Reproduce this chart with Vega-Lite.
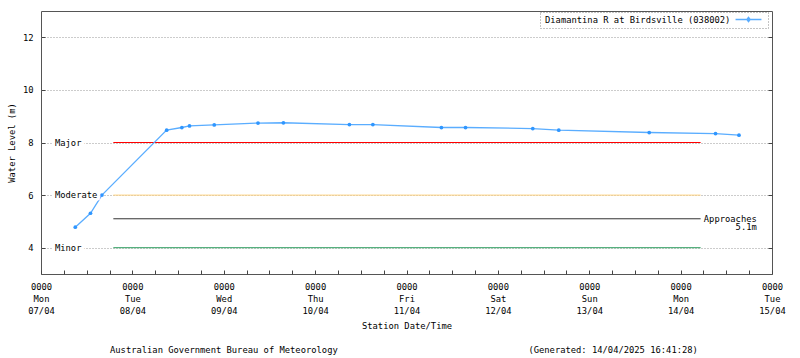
{
  "$schema": "https://vega.github.io/schema/vega-lite/v6.json",
  "width": 731,
  "height": 263,
  "autosize": {"type": "none"},
  "padding": {"left": 41, "top": 11, "right": 28, "bottom": 84},
  "background": "white",
  "config": {
    "font": "DejaVu Sans Mono",
    "view": {"stroke": "#555", "strokeWidth": 1},
    "axis": {
      "labelFont": "DejaVu Sans Mono", "labelFontSize": 8.8, "labelColor": "#000",
      "titleFont": "DejaVu Sans Mono", "titleFontSize": 8.8, "titleFontWeight": "normal", "titleColor": "#000",
      "gridColor": "#999", "gridDash": [1, 2], "gridWidth": 1,
      "tickColor": "#444", "domain": false
    },
    "text": {"font": "DejaVu Sans Mono", "fontSize": 8.8}
  },
  "title": {
    "text": "Australian Government Bureau of Meteorology\u00a0\u00a0\u00a0\u00a0\u00a0\u00a0\u00a0\u00a0\u00a0\u00a0\u00a0\u00a0\u00a0\u00a0\u00a0\u00a0\u00a0\u00a0\u00a0\u00a0\u00a0\u00a0\u00a0\u00a0\u00a0\u00a0\u00a0\u00a0\u00a0\u00a0\u00a0\u00a0\u00a0\u00a0\u00a0\u00a0(Generated: 14/04/2025 16:41:28)",
    "orient": "bottom", "anchor": "start", "frame": "group", "dx": 69, "offset": 15,
    "font": "DejaVu Sans Mono", "fontSize": 8.8, "fontWeight": "normal", "color": "#000"
  },
  "datasets": {
    "levels": [
      {"series": "Diamantina R at Birdsville (038002)", "time": "2025-04-07T09:00", "level": 4.78},
      {"series": "Diamantina R at Birdsville (038002)", "time": "2025-04-07T13:00", "level": 5.31},
      {"series": "Diamantina R at Birdsville (038002)", "time": "2025-04-07T16:00", "level": 6.0},
      {"series": "Diamantina R at Birdsville (038002)", "time": "2025-04-08T09:00", "level": 8.47},
      {"series": "Diamantina R at Birdsville (038002)", "time": "2025-04-08T13:00", "level": 8.57},
      {"series": "Diamantina R at Birdsville (038002)", "time": "2025-04-08T15:00", "level": 8.63},
      {"series": "Diamantina R at Birdsville (038002)", "time": "2025-04-08T21:30", "level": 8.67},
      {"series": "Diamantina R at Birdsville (038002)", "time": "2025-04-09T09:00", "level": 8.74},
      {"series": "Diamantina R at Birdsville (038002)", "time": "2025-04-09T15:40", "level": 8.75},
      {"series": "Diamantina R at Birdsville (038002)", "time": "2025-04-10T09:00", "level": 8.68},
      {"series": "Diamantina R at Birdsville (038002)", "time": "2025-04-10T15:10", "level": 8.68},
      {"series": "Diamantina R at Birdsville (038002)", "time": "2025-04-11T09:10", "level": 8.57},
      {"series": "Diamantina R at Birdsville (038002)", "time": "2025-04-11T15:30", "level": 8.57},
      {"series": "Diamantina R at Birdsville (038002)", "time": "2025-04-12T09:10", "level": 8.53},
      {"series": "Diamantina R at Birdsville (038002)", "time": "2025-04-12T16:00", "level": 8.47},
      {"series": "Diamantina R at Birdsville (038002)", "time": "2025-04-13T15:45", "level": 8.38},
      {"series": "Diamantina R at Birdsville (038002)", "time": "2025-04-14T09:10", "level": 8.34},
      {"series": "Diamantina R at Birdsville (038002)", "time": "2025-04-14T15:20", "level": 8.28}
    ],
    "thresholds": [
      {"threshold": "Major", "level": 8, "label": "Major"},
      {"threshold": "Moderate", "level": 6, "label": "Moderate"},
      {"threshold": "Approaches", "level": 5.1, "label": "Approaches\n5.1m"},
      {"threshold": "Minor", "level": 4, "label": "Minor"}
    ]
  },
  "layer": [
    {
      "data": {"name": "thresholds"},
      "mark": {"type": "rule", "strokeWidth": 1},
      "encoding": {
        "x": {
          "datum": {"year": 2025, "month": 4, "date": 7, "hours": 19},
          "type": "temporal",
          "scale": {"domain": [{"year": 2025, "month": 4, "date": 7}, {"year": 2025, "month": 4, "date": 15}], "nice": false},
          "axis": {
            "title": "Station Date/Time",
            "tickCount": 32,
            "labelExpr": "hours(datum.value) === 0 ? ['0000', timeFormat(datum.value, '%a'), timeFormat(datum.value, '%d/%m')] : ''",
            "labelLineHeight": 12, "labelBaseline": "top", "labelAlign": "center",
            "labelPadding": 12, "labelOverlap": false, "labelFlush": false, "labelBound": false,
            "tickSize": -4,
            "gridOpacity": {"condition": {"test": "hours(datum.value) === 0", "value": 1}, "value": 0},
            "titlePadding": 7
          }
        },
        "x2": {"datum": {"year": 2025, "month": 4, "date": 14, "hours": 5, "minutes": 15}},
        "y": {
          "field": "level", "type": "quantitative",
          "scale": {"domain": [3, 13], "nice": false, "zero": false},
          "axis": {"orient": "right", "values": [4, 6, 8, 10, 12], "labels": false, "grid": false, "tickSize": -4, "title": null}
        },
        "color": {
          "field": "threshold", "type": "nominal",
          "scale": {"domain": ["Major", "Moderate", "Approaches", "Minor"], "range": ["#ff0000", "#ffd27f", "#333333", "#2f9e60"]},
          "legend": null
        }
      }
    },
    {
      "data": {"name": "levels"},
      "mark": {"type": "line", "strokeWidth": 1.3},
      "encoding": {
        "x": {"field": "time", "type": "temporal"},
        "y": {
          "field": "level", "type": "quantitative",
          "axis": {"orient": "left", "values": [4, 6, 8, 10, 12], "grid": true, "tickSize": -4, "labelPadding": 12, "title": "Water Level (m)", "titlePadding": 6}
        },
        "color": {
          "field": "series", "type": "nominal",
          "scale": {"range": ["#5aadff"]},
          "legend": {
            "orient": "none", "legendX": 499, "legendY": 1, "title": null,
            "labelFont": "DejaVu Sans Mono", "labelFontSize": 8.8, "labelColor": "#000", "labelLimit": 400,
            "symbolType": "M-3.7,0H3.7M0,-0.6L0.45,0L0,0.6L-0.45,0Z",
            "symbolSize": 49, "symbolStrokeWidth": 1.5, "symbolStrokeColor": "#5aadff", "symbolFillColor": "#2f96ff",
            "labelOffset": -208, "symbolOffset": 201,
            "strokeColor": "#888", "fillColor": "white", "padding": 3,
            "encode": {"legend": {"update": {"strokeDash": {"value": [1, 2]}}}}
          }
        }
      }
    },
    {
      "data": {"name": "levels"},
      "mark": {"type": "point", "filled": true, "shape": "circle", "size": 14, "color": "#2f96ff", "opacity": 1},
      "encoding": {
        "x": {"field": "time", "type": "temporal"},
        "y": {"field": "level", "type": "quantitative", "axis": null}
      }
    },
    {
      "data": {"name": "thresholds"},
      "transform": [{"filter": "datum.threshold !== 'Approaches'"}],
      "mark": {"type": "text", "align": "left", "baseline": "middle", "fill": "white", "stroke": "white", "strokeWidth": 6},
      "encoding": {
        "x": {"datum": {"year": 2025, "month": 4, "date": 7, "hours": 3, "minutes": 40}, "type": "temporal"},
        "y": {"field": "level", "type": "quantitative", "axis": null},
        "text": {"field": "label"}
      }
    },
    {
      "data": {"name": "thresholds"},
      "transform": [{"filter": "datum.threshold !== 'Approaches'"}],
      "mark": {"type": "text", "align": "left", "baseline": "middle", "color": "#000"},
      "encoding": {
        "x": {"datum": {"year": 2025, "month": 4, "date": 7, "hours": 3, "minutes": 40}, "type": "temporal"},
        "y": {"field": "level", "type": "quantitative", "axis": null},
        "text": {"field": "label"}
      }
    },
    {
      "data": {"name": "thresholds"},
      "transform": [{"filter": "datum.threshold === 'Approaches'"}],
      "mark": {"type": "text", "align": "right", "baseline": "middle", "lineBreak": "\n", "lineHeight": 8, "color": "#000"},
      "encoding": {
        "x": {"datum": {"year": 2025, "month": 4, "date": 14, "hours": 20}, "type": "temporal"},
        "y": {"field": "level", "type": "quantitative", "axis": null},
        "text": {"field": "label"}
      }
    }
  ],
  "resolve": {"scale": {"color": "independent"}, "axis": {"y": "independent"}}
}
